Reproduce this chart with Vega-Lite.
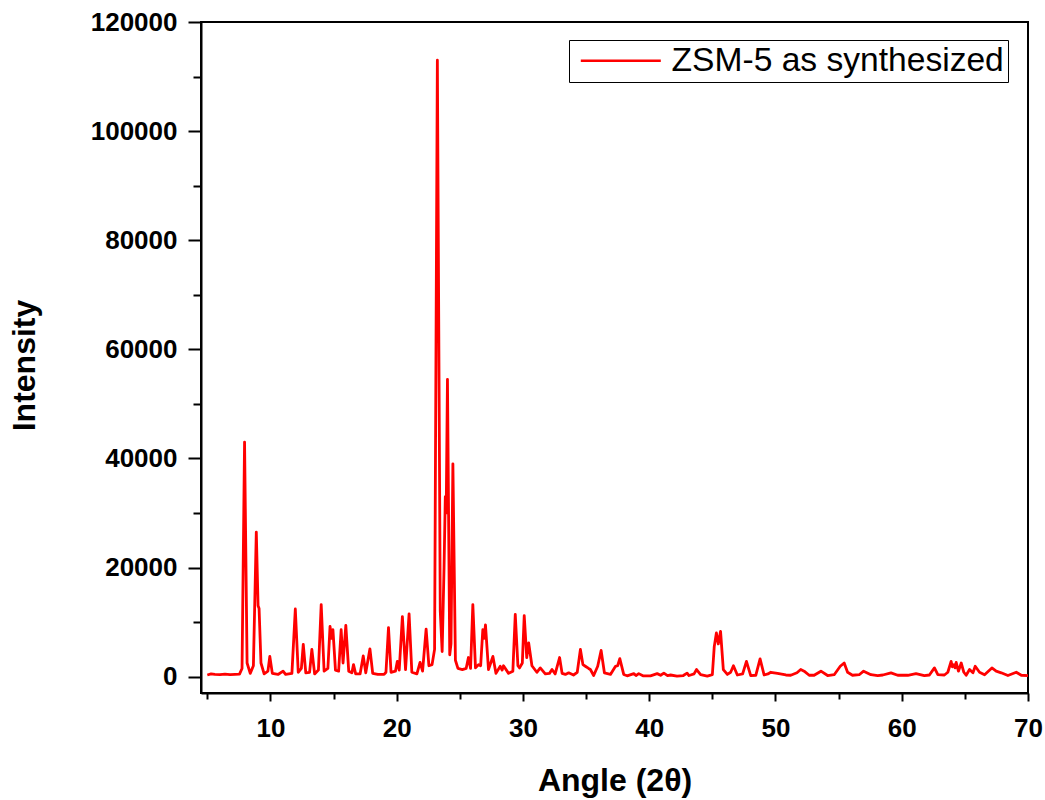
{
  "$schema": "https://vega.github.io/schema/vega-lite/v6.json",
  "autosize": "none",
  "width": 827,
  "height": 671,
  "padding": {"left": 201, "top": 22, "right": 17, "bottom": 107},
  "background": "white",
  "config": {
    "view": {"stroke": "#000", "strokeWidth": 2},
    "font": "Liberation Sans"
  },
  "data": {
    "values": [
      {"a":5.0,"i":300},{"a":5.3,"i":500},{"a":5.6,"i":400},{"a":6.0,"i":350},{"a":6.4,"i":450},{"a":6.8,"i":350},{"a":7.2,"i":400},{"a":7.55,"i":450},{"a":7.75,"i":1500},{"a":7.95,"i":43000},{"a":8.15,"i":2500},{"a":8.4,"i":600},{"a":8.65,"i":2000},{"a":8.88,"i":26500},{"a":9.02,"i":13000},{"a":9.1,"i":12500},{"a":9.25,"i":2500},{"a":9.5,"i":500},{"a":9.8,"i":1000},{"a":9.95,"i":3700},{"a":10.15,"i":600},{"a":10.6,"i":400},{"a":11.0,"i":1000},{"a":11.2,"i":400},{"a":11.7,"i":600},{"a":11.97,"i":12400},{"a":12.2,"i":800},{"a":12.45,"i":1500},{"a":12.6,"i":5900},{"a":12.8,"i":700},{"a":13.1,"i":800},{"a":13.28,"i":5000},{"a":13.5,"i":500},{"a":13.8,"i":1200},{"a":14.02,"i":13200},{"a":14.25,"i":1000},{"a":14.55,"i":1500},{"a":14.72,"i":9200},{"a":14.85,"i":7000},{"a":14.95,"i":8600},{"a":15.15,"i":1200},{"a":15.4,"i":1000},{"a":15.6,"i":8600},{"a":15.75,"i":2500},{"a":15.97,"i":9400},{"a":16.2,"i":1000},{"a":16.45,"i":700},{"a":16.58,"i":2200},{"a":16.75,"i":500},{"a":17.1,"i":500},{"a":17.35,"i":3800},{"a":17.55,"i":700},{"a":17.88,"i":5100},{"a":18.1,"i":600},{"a":18.5,"i":400},{"a":19.0,"i":400},{"a":19.15,"i":800},{"a":19.35,"i":9000},{"a":19.55,"i":800},{"a":19.9,"i":1000},{"a":20.05,"i":2800},{"a":20.2,"i":1200},{"a":20.45,"i":11000},{"a":20.7,"i":1300},{"a":20.98,"i":11500},{"a":21.2,"i":800},{"a":21.6,"i":500},{"a":21.85,"i":2600},{"a":22.05,"i":1000},{"a":22.33,"i":8700},{"a":22.55,"i":2000},{"a":22.8,"i":2200},{"a":23.0,"i":5000},{"a":23.22,"i":113000},{"a":23.45,"i":12000},{"a":23.6,"i":4600},{"a":23.75,"i":20000},{"a":23.85,"i":33000},{"a":23.92,"i":30000},{"a":24.02,"i":54500},{"a":24.2,"i":4000},{"a":24.3,"i":6000},{"a":24.45,"i":39000},{"a":24.65,"i":3000},{"a":24.85,"i":1500},{"a":25.2,"i":1300},{"a":25.5,"i":1500},{"a":25.68,"i":3500},{"a":25.85,"i":1500},{"a":26.03,"i":13200},{"a":26.24,"i":1600},{"a":26.48,"i":2200},{"a":26.65,"i":2000},{"a":26.82,"i":8600},{"a":26.93,"i":7000},{"a":27.03,"i":9500},{"a":27.27,"i":1300},{"a":27.62,"i":3700},{"a":27.86,"i":600},{"a":28.2,"i":1900},{"a":28.35,"i":1200},{"a":28.46,"i":2000},{"a":28.86,"i":600},{"a":29.2,"i":1000},{"a":29.39,"i":11400},{"a":29.6,"i":2000},{"a":29.73,"i":1600},{"a":29.95,"i":2500},{"a":30.1,"i":11200},{"a":30.3,"i":3500},{"a":30.45,"i":6200},{"a":30.71,"i":2000},{"a":31.1,"i":800},{"a":31.37,"i":1600},{"a":31.77,"i":500},{"a":32.1,"i":600},{"a":32.3,"i":1300},{"a":32.55,"i":500},{"a":32.9,"i":3500},{"a":33.1,"i":600},{"a":33.36,"i":400},{"a":33.62,"i":700},{"a":34.0,"i":300},{"a":34.3,"i":800},{"a":34.55,"i":5000},{"a":34.75,"i":2200},{"a":34.94,"i":1900},{"a":35.2,"i":1500},{"a":35.34,"i":1300},{"a":35.6,"i":200},{"a":35.92,"i":1900},{"a":36.19,"i":4800},{"a":36.45,"i":700},{"a":36.93,"i":400},{"a":37.33,"i":1900},{"a":37.5,"i":2000},{"a":37.67,"i":3300},{"a":37.98,"i":400},{"a":38.25,"i":150},{"a":38.78,"i":550},{"a":38.95,"i":200},{"a":39.17,"i":550},{"a":39.5,"i":150},{"a":40.1,"i":150},{"a":40.63,"i":550},{"a":40.9,"i":250},{"a":41.16,"i":650},{"a":41.45,"i":200},{"a":41.69,"i":300},{"a":42.2,"i":100},{"a":42.7,"i":200},{"a":43.0,"i":650},{"a":43.15,"i":200},{"a":43.28,"i":300},{"a":43.55,"i":500},{"a":43.75,"i":1300},{"a":44.07,"i":350},{"a":44.6,"i":100},{"a":45.0,"i":350},{"a":45.15,"i":5500},{"a":45.32,"i":8000},{"a":45.47,"i":6000},{"a":45.65,"i":8300},{"a":45.87,"i":1300},{"a":46.19,"i":400},{"a":46.45,"i":800},{"a":46.67,"i":2000},{"a":46.98,"i":300},{"a":47.4,"i":500},{"a":47.7,"i":2800},{"a":48.04,"i":200},{"a":48.44,"i":250},{"a":48.78,"i":3250},{"a":49.1,"i":300},{"a":49.4,"i":500},{"a":49.63,"i":800},{"a":50.16,"i":600},{"a":50.82,"i":300},{"a":51.21,"i":250},{"a":51.7,"i":700},{"a":52.0,"i":1300},{"a":52.27,"i":1000},{"a":52.67,"i":250},{"a":53.06,"i":250},{"a":53.6,"i":1000},{"a":54.13,"i":200},{"a":54.65,"i":350},{"a":55.13,"i":1900},{"a":55.44,"i":2500},{"a":55.71,"i":800},{"a":56.1,"i":250},{"a":56.63,"i":350},{"a":56.98,"i":1000},{"a":57.56,"i":350},{"a":58.1,"i":200},{"a":58.5,"i":300},{"a":59.15,"i":700},{"a":59.68,"i":250},{"a":60.48,"i":250},{"a":61.13,"i":550},{"a":61.79,"i":200},{"a":62.19,"i":300},{"a":62.59,"i":1600},{"a":62.86,"i":350},{"a":63.38,"i":300},{"a":63.65,"i":800},{"a":63.91,"i":2800},{"a":64.0,"i":1800},{"a":64.13,"i":2200},{"a":64.22,"i":1600},{"a":64.31,"i":2600},{"a":64.49,"i":1000},{"a":64.71,"i":2500},{"a":64.92,"i":800},{"a":65.1,"i":250},{"a":65.37,"i":1300},{"a":65.64,"i":700},{"a":65.82,"i":1900},{"a":66.16,"i":800},{"a":66.56,"i":350},{"a":67.14,"i":1600},{"a":67.48,"i":1000},{"a":67.88,"i":700},{"a":68.41,"i":200},{"a":69.07,"i":800},{"a":69.47,"i":250},{"a":70.0,"i":200}
    ]
  },
  "transform": [{"calculate": "'ZSM-5 as synthesized'", "as": "series"}],
  "mark": {"type": "line", "strokeWidth": 2.8, "clip": true, "strokeJoin": "round"},
  "encoding": {
    "x": {
      "field": "a", "type": "quantitative",
      "scale": {"domain": [4.5, 70], "nice": false, "zero": false},
      "axis": {
        "title": "Angle (2θ)",
        "values": [5,10,15,20,25,30,35,40,45,50,55,60,65,70],
        "labelExpr": "datum.value % 10 === 0 ? datum.label : ''",
        "grid": false,
        "domainColor": "#000", "domainWidth": 2,
        "tickColor": "#000", "tickWidth": 2,
        "tickSize": {"condition": {"test": "datum.value % 10 === 0", "value": 8}, "value": 6},
        "labelPadding": 14,
        "labelFont": "Liberation Sans", "labelFontWeight": "bold", "labelFontSize": 26, "labelColor": "#000",
        "labelOverlap": false, "labelFlush": false,
        "titleFont": "Liberation Sans", "titleFontWeight": "bold", "titleFontSize": 32, "titleColor": "#000",
        "titleBaseline": "alphabetic", "titleY": 97
      }
    },
    "y": {
      "field": "i", "type": "quantitative",
      "scale": {"domain": [-3000, 120000], "nice": false, "zero": false},
      "axis": {
        "title": "Intensity",
        "values": [0,10000,20000,30000,40000,50000,60000,70000,80000,90000,100000,110000,120000],
        "labelExpr": "datum.value % 20000 === 0 ? format(datum.value, 'd') : ''",
        "grid": false,
        "domainColor": "#000", "domainWidth": 2,
        "tickColor": "#000", "tickWidth": 2,
        "tickSize": {"condition": {"test": "datum.value % 20000 === 0", "value": 13}, "value": 8},
        "labelPadding": 11,
        "labelFont": "Liberation Sans", "labelFontWeight": "bold", "labelFontSize": 26, "labelColor": "#000",
        "labelOverlap": false, "labelFlush": false,
        "titleFont": "Liberation Sans", "titleFontWeight": "bold", "titleFontSize": 32, "titleColor": "#000",
        "titleBaseline": "alphabetic", "titleAngle": -90, "titleAlign": "center",
        "titleX": -167, "titleY": 343
      }
    },
    "color": {
      "field": "series", "type": "nominal",
      "scale": {"range": ["#ff0000"]},
      "legend": {
        "title": null,
        "orient": "none",
        "legendX": 368, "legendY": 18,
        "symbolType": "M-4,0H4",
        "symbolSize": 400,
        "symbolStrokeWidth": 2.5,
        "symbolOffset": 31,
        "labelFont": "Liberation Sans", "labelFontSize": 33.6, "labelColor": "#000",
        "labelOffset": 34,
        "labelLimit": 0,
        "padding": 4,
        "strokeColor": "#000",
        "fillColor": "#fff"
      }
    }
  }
}
